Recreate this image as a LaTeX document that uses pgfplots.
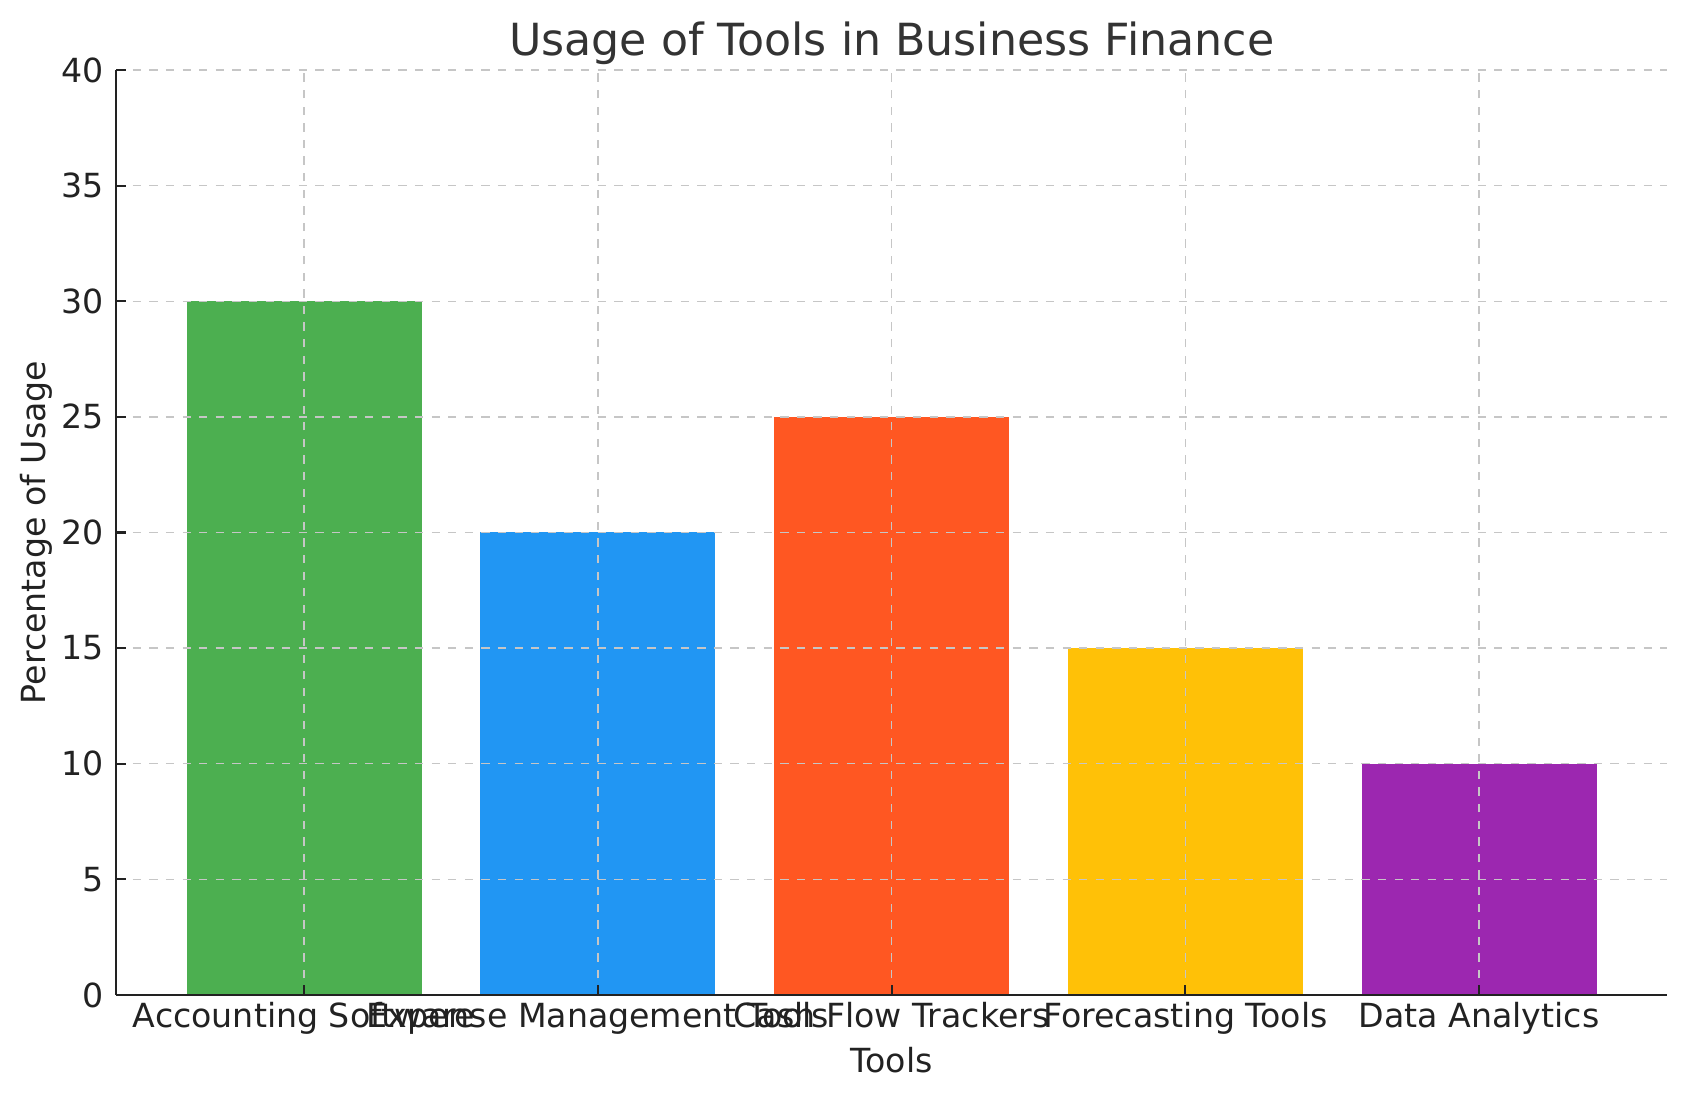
\documentclass[border=0pt]{standalone}
\usepackage{fontspec}
\setmainfont{DejaVu Sans}
\usepackage{pgfplots}
\pgfplotsset{compat=1.18}
\definecolor{cgreen}{HTML}{4CAF50}
\definecolor{cblue}{HTML}{2196F3}
\definecolor{corange}{HTML}{FF5722}
\definecolor{camber}{HTML}{FFC107}
\definecolor{cpurple}{HTML}{9C27B0}
\definecolor{ink}{HTML}{222222}
\definecolor{titleink}{HTML}{333333}
\begin{document}
\begin{tikzpicture}
\begin{axis}[
    scale only axis,
    width=558.4bp, height=333bp,
    xmin=-0.64, xmax=4.64,
    ymin=0, ymax=40,
    axis x line*=bottom, axis y line*=left,
    axis line style={ink, line width=0.9pt},
    axis on top,
    xtick={0,1,2,3,4},
    xticklabels={Accounting Software, Expense Management Tools, Cash Flow Trackers, Forecasting Tools, Data Analytics},
    ytick={0,5,...,40},
    tick align=inside,
    major tick length=3.5pt,
    tick style={ink, line width=0.8pt},
    grid=major,
    major grid style={gray!45, dashed, line width=0.5pt},
    ticklabel style={font=\fontsize{12}{14}\selectfont, text=ink},
    /pgf/number format/assume math mode=true,
    xticklabel style={yshift=1pt},
    yticklabel style={xshift=-1pt},
    title={Usage of Tools in Business Finance},
    title style={font=\fontsize{16}{19}\selectfont, text=titleink, yshift=-7.8pt},
    xlabel={Tools},
    ylabel={Percentage of Usage},
    label style={font=\fontsize{12}{14}\selectfont, text=ink},
    xlabel style={yshift=2pt},
    ylabel style={yshift=-3.5pt},
]
\addplot[ybar, bar width=0.8, bar shift=0pt, fill=cgreen, draw=none] coordinates {(0,30)};
\addplot[ybar, bar width=0.8, bar shift=0pt, fill=cblue, draw=none] coordinates {(1,20)};
\addplot[ybar, bar width=0.8, bar shift=0pt, fill=corange, draw=none] coordinates {(2,25)};
\addplot[ybar, bar width=0.8, bar shift=0pt, fill=camber, draw=none] coordinates {(3,15)};
\addplot[ybar, bar width=0.8, bar shift=0pt, fill=cpurple, draw=none] coordinates {(4,10)};
\end{axis}
\pgfresetboundingbox
\path[use as bounding box] (-41.8bp,-38.2bp) rectangle (565.2bp,358.2bp);
\end{tikzpicture}
\end{document}
